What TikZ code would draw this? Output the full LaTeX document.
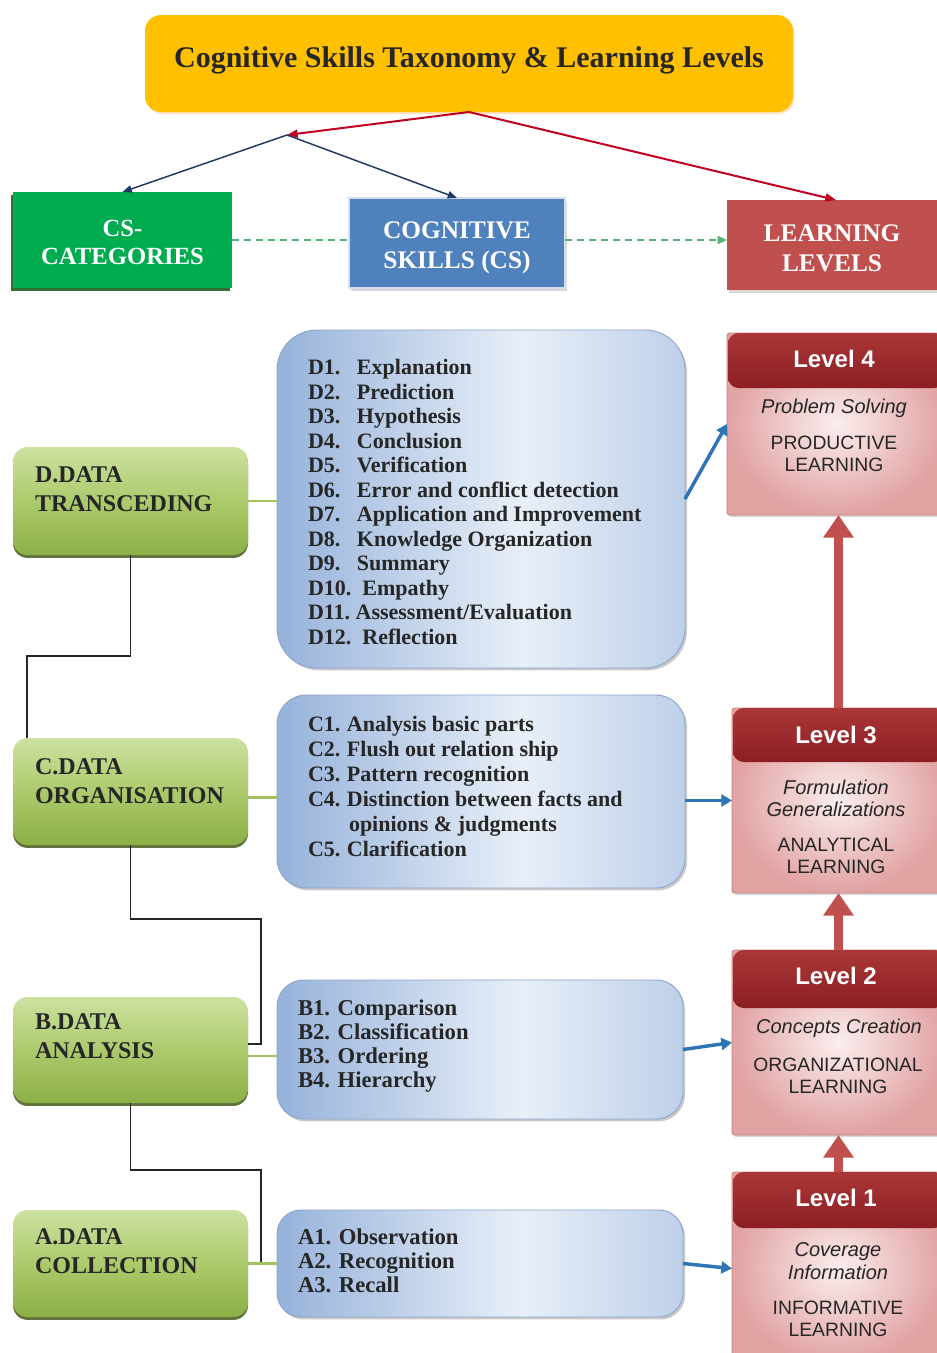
\documentclass[tikz,border=0pt]{standalone}
\usepackage{fontspec}
\setmainfont{Liberation Serif}
\setsansfont{Liberation Sans}
\usetikzlibrary{shadows,fit,arrows.meta,calc}
\definecolor{titleor}{RGB}{255,192,0}
\definecolor{csgreen}{RGB}{0,172,80}
\definecolor{csblue}{RGB}{79,129,189}
\definecolor{csred}{RGB}{192,80,77}
\definecolor{arrred}{RGB}{192,0,32}
\definecolor{arrnavy}{RGB}{31,56,100}
\definecolor{dashgreen}{RGB}{80,180,120}
\definecolor{catlight}{RGB}{205,225,160}
\definecolor{catmid}{RGB}{172,202,108}
\definecolor{catdark}{RGB}{140,175,70}
\definecolor{catshadow}{RGB}{80,100,40}
\definecolor{skilledge}{RGB}{150,178,218}
\definecolor{skilllight}{RGB}{232,239,248}
\definecolor{skillright}{RGB}{190,208,233}
\definecolor{skillborder}{RGB}{140,166,205}
\definecolor{lvheadtop}{RGB}{170,55,55}
\definecolor{lvheadc}{RGB}{140,30,35}
\definecolor{lvlight}{RGB}{251,238,238}
\definecolor{lvdark}{RGB}{225,162,162}
\definecolor{lvborder}{RGB}{200,130,128}
\definecolor{lvarrow}{RGB}{192,80,77}
\definecolor{bluearr}{RGB}{46,117,182}
\definecolor{conngreen}{RGB}{160,195,95}
\pgfdeclarehorizontalshading{skillsh}{100bp}{color(0bp)=(skilledge); color(25bp)=(skilledge); color(55bp)=(skilllight); color(75bp)=(skillright); color(100bp)=(skillright)}
\newcommand\dlab[1]{\makebox[36.75pt][l]{#1}}
\newcommand\clab[1]{\makebox[29.25pt][l]{#1}}
\begin{document}
\begin{tikzpicture}[x=0.75pt,y=-0.75pt,
  every node/.style={inner sep=0pt,outer sep=0pt},
  hdrbox/.style={text=white,align=center,font=\bfseries\fontsize{19}{22.5}\selectfont},
  catbox/.style={rounded corners=11pt,top color=catlight,bottom color=catdark,middle color=catmid,
     drop shadow={shadow xshift=0pt,shadow yshift=-2.2pt,fill=catshadow,opacity=0.9}},
  cattext/.style={anchor=west,align=left,font=\bfseries\fontsize{18}{21.5}\selectfont,text=black!85},
  skillbox/.style={draw=skillborder,line width=0.7pt,shading=skillsh,
     drop shadow={shadow xshift=1.5pt,shadow yshift=-1.8pt,fill=black!35,opacity=0.6}},
  skilltext/.style={anchor=west,align=left,text=black!85},
  lvbody/.style={draw=lvborder,line width=0.6pt,rounded corners=2pt,inner color=lvlight,outer color=lvdark,
     drop shadow={shadow xshift=1.2pt,shadow yshift=-1.5pt,fill=black!30,opacity=0.5}},
  lvhead/.style={rounded corners=8pt,top color=lvheadtop,bottom color=lvheadc},
  lvtitle/.style={text=white,font=\sffamily\bfseries\fontsize{18}{20}\selectfont},
  lvital/.style={align=center,font=\sffamily\itshape\fontsize{15}{17}\selectfont,text=black!85},
  lvcaps/.style={align=center,font=\sffamily\fontsize{14.5}{16.5}\selectfont,text=black!85},
  redarr/.style={draw=arrred,line width=1.5pt,-{Triangle[length=8pt,width=6pt]}},
  navyarr/.style={draw=arrnavy,line width=1.1pt,-{Triangle[length=7pt,width=5.5pt]}},
  dasharr/.style={draw=dashgreen,line width=1.5pt,dash pattern=on 5pt off 4pt},
  blackconn/.style={draw=black!85,line width=1.1pt},
  greenconn/.style={draw=conngreen,line width=2.2pt},
  bluearrow/.style={draw=bluearr,line width=2.6pt,-{Triangle[length=8pt,width=9pt]}},
  uparr/.style={draw=lvarrow,line width=6.5pt,-{Triangle[length=17pt,width=22pt]}}
]
\useasboundingbox (0,0) rectangle (937,1353);
\fill[white] (0,0) rectangle (937,1353);

% title
\node[fit={(145,15)(793,112)},rounded corners=12pt,fill=titleor,
  drop shadow={shadow xshift=1pt,shadow yshift=-1.5pt,fill=orange!40,opacity=0.6}] (title) {};
\node[font=\bfseries\fontsize{22.5}{26}\selectfont,text=black!85] (titletext) at (469,60)
  {Cognitive Skills Taxonomy \& Learning Levels};

% header row
\node[fit={(13,192)(232,288)},fill=csgreen,
  drop shadow={shadow xshift=-1.5pt,shadow yshift=-2pt,fill=black!70!green,opacity=0.8}] (cat) {};
\node[hdrbox,font=\bfseries\fontsize{18.5}{21}\selectfont] (cattx) at (122.5,242) {CS-\\CATEGORIES};
\node[fit={(349,198)(565,288)},fill=csblue,draw=white!75!csblue,line width=1pt,
  drop shadow={shadow xshift=1.5pt,shadow yshift=-2pt,fill=black!25,opacity=0.6}] (cog) {};
\node[hdrbox] (cogtx) at (457,248) {COGNITIVE\\SKILLS (CS)};
\node[fit={(727,200)(945,290)},fill=csred,
  drop shadow={shadow xshift=1.5pt,shadow yshift=-2pt,fill=black!25,opacity=0.6}] (ll) {};
\node[hdrbox] (lltx) at (832,248) {LEARNING\\LEVELS};

\coordinate (split) at (287,135);
\draw[redarr] (title.south) -- (split);
\draw[redarr] (title.south) -- (ll.north);
\draw[navyarr] (split) -- (cat.north);
\draw[navyarr] (split) -- (cog.north);
\draw[dasharr] (cat.east) -- (cat.east -| cog.west);
\draw[dasharr,-{Triangle[length=7pt,width=6pt]}] (cog.east |- cat.east) -- (cat.east -| ll.west);

% category boxes
\node[catbox,fit={(13,447)(248,555)}] (catD) {};
\node[cattext] (catDt) at (35,489) {D.DATA\\TRANSCEDING};
\node[catbox,fit={(13,738)(248,845)}] (catC) {};
\node[cattext] (catCt) at (35,781) {C.DATA\\ORGANISATION};
\node[catbox,fit={(13,997)(248,1103)}] (catB) {};
\node[cattext] (catBt) at (35,1036) {B.DATA\\ANALYSIS};
\node[catbox,fit={(13,1210)(248,1317)}] (catA) {};
\node[cattext] (catAt) at (35,1251) {A.DATA\\COLLECTION};

% skill boxes
\node[skillbox,rounded corners=30pt,fit={(277,330)(685,668)}] (skD) {};
\node[skilltext,font=\bfseries\fontsize{16.5}{18.4}\selectfont] (skDt) at (308,502) {%
\dlab{D1.}Explanation\\
\dlab{D2.}Prediction\\
\dlab{D3.}Hypothesis\\
\dlab{D4.}Conclusion\\
\dlab{D5.}Verification\\
\dlab{D6.}Error and conflict detection\\
\dlab{D7.}Application and Improvement\\
\dlab{D8.}Knowledge Organization\\
\dlab{D9.}Summary\\
D10.\ \ Empathy\\
D11.\ Assessment/Evaluation\\
D12.\ \ Reflection};
\node[skillbox,rounded corners=22pt,fit={(277,695)(685,888)}] (skC) {};
\node[skilltext,font=\bfseries\fontsize{16.5}{18.75}\selectfont] (skCt) at (308,786.5) {%
\clab{C1.}Analysis basic parts\\
\clab{C2.}Flush out relation ship\\
\clab{C3.}Pattern recognition\\
\clab{C4.}Distinction between facts and\\
\hspace*{30.75pt}opinions \& judgments\\
\clab{C5.}Clarification};
\node[skillbox,rounded corners=20pt,fit={(277,980)(683,1119)}] (skB) {};
\node[skilltext,font=\bfseries\fontsize{17}{18}\selectfont] (skBt) at (298,1046) {%
B1. Comparison\\
B2. Classification\\
B3. Ordering\\
B4. Hierarchy};
\node[skillbox,rounded corners=18pt,fit={(277,1210)(683,1317)}] (skA) {};
\node[skilltext,font=\bfseries\fontsize{17}{18}\selectfont] (skAt) at (298,1261) {%
A1. Observation\\
A2. Recognition\\
A3. Recall};

% level boxes
\node[lvbody,fit={(727,333)(945,515)}] (lv4) {};
\node[lvhead,fit={(728,333)(945,388)}] (lv4h) {};
\node[lvtitle] (lv4t) at (834,359) {Level 4};
\node[lvital] (lv4i) at (834,408) {Problem Solving};
\node[lvcaps] (lv4c) at (834,454) {PRODUCTIVE\\LEARNING};

\node[lvbody,fit={(732,708)(945,893)}] (lv3) {};
\node[lvhead,fit={(733,708)(945,762)}] (lv3h) {};
\node[lvtitle] (lv3t) at (836,735) {Level 3};
\node[lvital] (lv3i) at (836,798.5) {Formulation\\Generalizations};
\node[lvcaps] (lv3c) at (836,855.5) {ANALYTICAL\\LEARNING};

\node[lvbody,fit={(732,950)(945,1135)}] (lv2) {};
\node[lvhead,fit={(733,950)(945,1008)}] (lv2h) {};
\node[lvtitle] (lv2t) at (836,976) {Level 2};
\node[lvital] (lv2i) at (839,1028) {Concepts Creation};
\node[lvcaps] (lv2c) at (838,1076) {ORGANIZATIONAL\\LEARNING};

\node[lvbody,fit={(732,1172)(945,1365)}] (lv1) {};
\node[lvhead,fit={(733,1172)(945,1228)}] (lv1h) {};
\node[lvtitle] (lv1t) at (836,1198) {Level 1};
\node[lvital] (lv1i) at (838,1261) {Coverage\\Information};
\node[lvcaps] (lv1c) at (838,1319) {INFORMATIVE\\LEARNING};

% connectors between categories
\coordinate (jD) at (27,656);
\draw[blackconn] (catD.south) |- (jD) -- (jD |- catC.north);
\coordinate (jC) at (261,919);
\coordinate (bB) at ($(catB.east)+(0,-6)$);
\draw[blackconn] (catC.south) |- (jC) |- (bB);
\coordinate (jB) at (261,1170);
\draw[blackconn] (catB.south) |- (jB) |- (catA.east);

% category to skill connectors
\coordinate (gC) at ($(catC.east)+(0,6)$);
\coordinate (gB) at ($(catB.east)+(0,6)$);
\draw[greenconn] (catD.east) -- (catD.east -| skD.west);
\draw[greenconn] (gC) -- (gC -| skC.west);
\draw[greenconn] (gB) -- (gB -| skB.west);
\draw[greenconn] (catA.east) -- (catA.east -| skA.west);

% skills to levels
\draw[bluearrow] (skD.east) -- (lv4.west);
\draw[bluearrow] (skC.east |- lv3.west) -- (lv3.west);
\draw[bluearrow] (skB.east) -- (lv2.west);
\draw[bluearrow] (skA.east) -- (lv1.west);

% level progression
\draw[uparr] (lv3.north) -- (lv3.north |- lv4.south);
\draw[uparr] (lv2.north) -- (lv3.south);
\draw[uparr] (lv1.north) -- (lv2.south);
\end{tikzpicture}
\end{document}
